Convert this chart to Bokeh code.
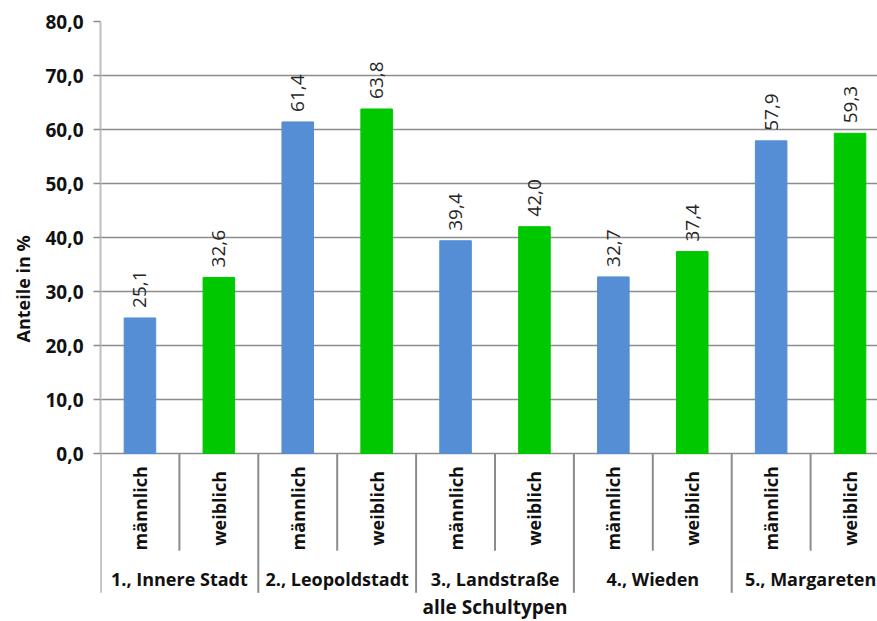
from bokeh.plotting import figure
from bokeh.models import (ColumnDataSource, Range1d, LinearAxis, FixedTicker,
                          CustomJSTickFormatter, Title)
from bokeh.core.properties import value
from bokeh.embed import file_html
from bokeh.resources import INLINE
import math

# Data
districts = ["1., Innere Stadt", "2., Leopoldstadt", "3., Landstraße",
             "4., Wieden", "5., Margareten"]
genders = ["männlich", "weiblich"]
male = [25.1, 61.4, 39.4, 32.7, 57.9]
female = [32.6, 63.8, 42.0, 37.4, 59.3]
y_ticks = [0, 10, 20, 30, 40, 50, 60, 70, 80]
y_title = "Anteile in %"
x_title = "alle Schultypen"

BLUE = "#558ED5"
GREEN = "#00C800"
FONT = "Open Sans"
INK = "#111111"

# Slot positions: each district has two slots (male, female)
xs, vals, cols, sub_labels = [], [], [], []
for i in range(len(districts)):
    for j, (g, v, c) in enumerate(zip(genders, (male[i], female[i]), (BLUE, GREEN))):
        xs.append(2 * i + j + 0.5)
        vals.append(v)
        cols.append(c)
        sub_labels.append(g)
val_text = [f"{v:.1f}".replace(".", ",") for v in vals]

src = ColumnDataSource(dict(x=xs, top=vals, color=cols, label=val_text, sub=sub_labels))

p = figure(width=877, height=621, output_backend="svg", toolbar_location=None,
           x_range=Range1d(0, 777 / 78.9), y_range=Range1d(80 - 600 / 5.4, 80),
           min_border_left=100, min_border_right=0, min_border_top=21,
           min_border_bottom=0, outline_line_color=None, background_fill_color="white",
           border_fill_color="white")
p.xaxis.visible = False
p.yaxis.visible = False
p.xgrid.visible = False

# y grid (0..70), baseline included
p.ygrid.ticker = FixedTicker(ticks=y_ticks[:-1])
p.ygrid.grid_line_color = "#8c8c8c"
p.ygrid.grid_line_width = 1.5

# y axis
yax = LinearAxis(bounds=(0, 80), ticker=FixedTicker(ticks=y_ticks))
yax.formatter = CustomJSTickFormatter(code="return tick.toFixed(1).replace('.', ',');")
yax.axis_line_color = "#bfbfbf"
yax.axis_line_width = 2
yax.major_tick_line_color = "#8c8c8c"
yax.major_tick_line_width = 1.5
yax.major_tick_out = 7
yax.major_tick_in = 0
yax.minor_tick_line_color = None
yax.major_label_text_font = FONT
yax.major_label_text_font_style = "bold"
yax.major_label_text_font_size = "19px"
yax.major_label_text_color = INK
yax.major_label_standoff = 10
p.add_layout(yax, "left")

# y title in the left margin, starting 279 px above the frame bottom
p.add_layout(Title(text=y_title, align="left", offset=279, standoff=16,
                   text_font=FONT, text_font_style="bold", text_font_size="18px",
                   text_color=INK), "left")

# bars
p.vbar(x="x", top="top", bottom=0, width=0.4, color="color", source=src)

# value labels above bars
p.text(x="x", y="top", text="label", source=src, angle=math.pi / 2,
       text_align="left", text_baseline="middle", y_offset=-10,
       text_font=value(FONT), text_font_size="19px", text_color="#262626")

# separators of the category axis
inner_x = [2 * i + 1 for i in range(len(districts))]
group_x = [2 * i for i in range(len(districts) + 1)]
p.segment(x0=inner_x, y0=[0] * len(inner_x), x1=inner_x, y1=[-18.0] * len(inner_x),
          line_color="#8c8c8c", line_width=2)
p.segment(x0=group_x, y0=[0] * len(group_x), x1=group_x, y1=[-25.8] * len(group_x),
          line_color="#8c8c8c", line_width=2)

# gender labels (rotated)
p.text(x="x", y=-10.15, text="sub", source=src, angle=math.pi / 2,
       text_align="center", text_baseline="middle",
       text_font=value(FONT), text_font_style="bold", text_font_size="18px",
       text_color=INK)

# district labels
p.text(x=[2 * i + 1 for i in range(len(districts))], y=[-23.2] * len(districts),
       text=districts, text_align="center", text_baseline="middle",
       text_font=value(FONT), text_font_style="bold", text_font_size="18px",
       text_color=INK)

# x title
p.text(x=[5.0], y=[-28.4], text=[x_title], text_align="center", text_baseline="middle",
       text_font=value(FONT), text_font_style="bold", text_font_size="19px",
       text_color=INK)

open("out.html", "w").write(file_html(p, INLINE))
